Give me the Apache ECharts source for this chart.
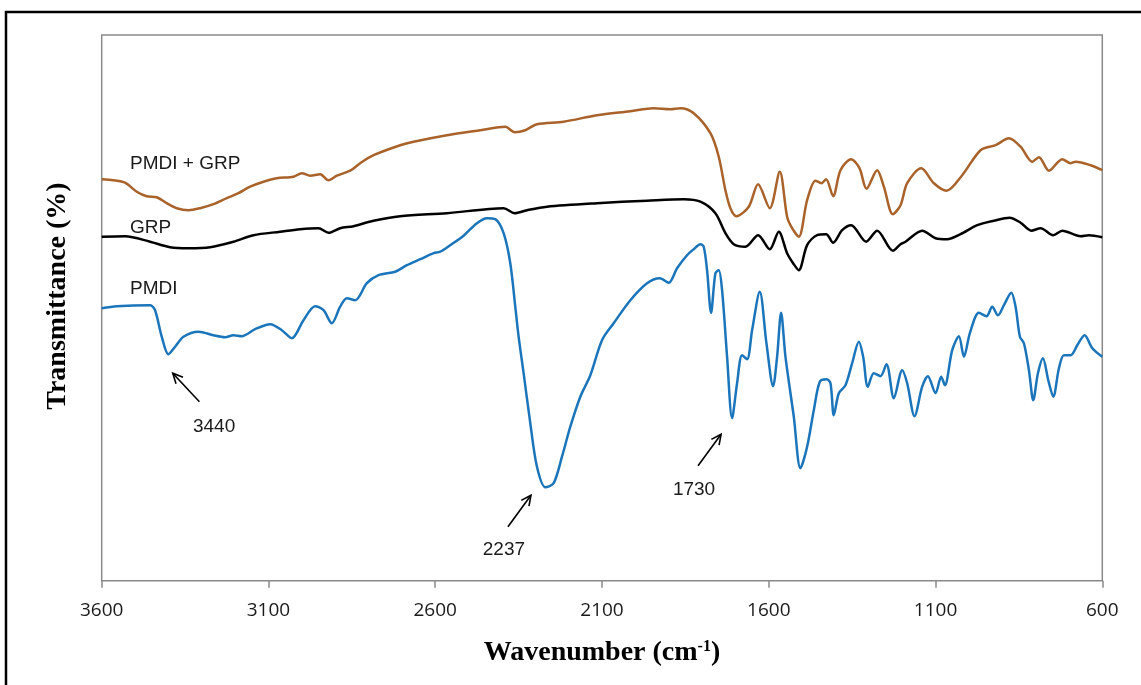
<!DOCTYPE html>
<html>
<head>
<meta charset="utf-8">
<script src="https://cdn.jsdelivr.net/npm/echarts@6/dist/echarts.min.js"></script>
<style>
html,body{margin:0;padding:0;background:#fff;}
#chart{width:1141px;height:685px;}
</style>
</head>
<body>
<div id="chart"></div>
<script>
// Wavenumber tick labels (cm-1)
const xTicks = [3600, 3100, 2600, 2100, 1600, 1100, 600];

// PMDI + GRP spectrum: [wavenumber, transmittance (arb.)]
const pmdiGrp = [
  [3600,80.3],[3565,80.1],[3530,79.6],[3495,77.8],[3465,76.9],[3435,76.7],[3405,75.5],[3375,74.5],
  [3340,74.1],[3305,74.5],[3265,75.3],[3225,76.5],[3190,77.5],[3155,78.8],[3115,79.8],[3075,80.5],
  [3025,80.8],[3000,81.5],[2975,81.0],[2945,81.3],[2920,80.1],[2895,81.0],[2855,82.0],[2825,83.5],
  [2785,85.1],[2705,87.1],[2665,87.8],[2565,89.1],[2465,90.1],[2390,90.8],[2362,89.7],[2330,90.1],
  [2295,91.3],[2215,91.8],[2115,93.1],[2015,93.9],[1945,94.5],[1895,94.3],[1865,94.5],[1825,93.5],
  [1775,89.5],[1750,84.8],[1730,78.1],[1715,74.5],[1697,72.9],[1660,74.8],[1632,79.3],[1597,74.5],
  [1567,81.8],[1545,72.8],[1530,70.5],[1510,68.8],[1485,76.1],[1460,80.0],[1442,79.5],[1428,80.3],
  [1407,76.9],[1385,82.1],[1353,84.3],[1328,82.5],[1307,78.4],[1275,82.1],[1255,78.8],[1228,73.3],
  [1205,75.1],[1185,79.5],[1143,82.5],[1105,79.5],[1067,78.0],[1020,81.1],[965,86.1],[920,87.1],
  [880,88.5],[845,86.8],[810,83.8],[790,84.7],[760,82.0],[720,84.3],[695,83.5],[680,83.8],
  [635,83.1],[600,82.1]
];

// GRP spectrum
const grp = [
  [3600,68.8],[3530,68.9],[3455,67.8],[3395,66.7],[3340,66.5],[3275,66.7],[3205,67.8],[3145,69.1],
  [3065,69.8],[3005,70.3],[2950,70.5],[2920,69.6],[2885,70.5],[2845,70.9],[2785,72.0],[2705,72.9],
  [2565,73.5],[2395,74.5],[2362,73.5],[2325,74.1],[2265,74.8],[2115,75.5],[1965,76.0],[1855,76.3],
  [1805,75.8],[1760,73.5],[1730,69.5],[1705,67.3],[1670,66.8],[1632,69.1],[1597,66.3],[1570,69.8],
  [1545,65.5],[1525,63.3],[1510,62.1],[1485,67.1],[1455,69.1],[1428,69.3],[1407,67.6],[1380,70.1],
  [1353,71.1],[1308,67.8],[1275,70.0],[1228,66.0],[1205,67.3],[1190,67.8],[1140,70.0],[1100,68.5],
  [1065,68.3],[1025,69.3],[975,71.1],[925,72.0],[878,72.6],[845,71.6],[813,70.0],[785,70.5],
  [747,69.1],[720,70.0],[665,68.9],[640,69.1],[600,68.7]
];

// PMDI spectrum
const pmdi = [
  [3600,54.5],[3555,54.9],[3455,55.1],[3440,54.1],[3420,48.8],[3400,45.3],[3380,46.8],[3355,48.8],
  [3310,49.8],[3265,49.1],[3230,48.7],[3205,49.1],[3180,48.9],[3140,50.3],[3095,51.3],[3060,50.1],
  [3030,48.5],[2995,52.1],[2960,54.9],[2935,54.1],[2910,51.5],[2885,54.8],[2865,56.5],[2840,56.1],
  [2805,59.5],[2770,61.1],[2720,61.8],[2685,63.1],[2645,64.3],[2605,65.5],[2585,65.8],[2555,67.1],
  [2515,69.0],[2475,71.5],[2445,72.5],[2420,72.3],[2395,69.5],[2375,63.5],[2360,54.8],[2350,48.8],
  [2335,41.5],[2315,31.5],[2295,22.8],[2270,18.7],[2245,19.5],[2220,24.8],[2195,30.8],[2165,36.8],
  [2135,41.1],[2100,48.1],[2065,51.5],[2015,56.1],[1965,59.5],[1927,60.5],[1900,59.6],[1875,62.5],
  [1845,65.1],[1825,66.3],[1805,67.3],[1795,66.8],[1785,62.1],[1773,53.6],[1760,61.5],[1750,62.1],
  [1740,58.1],[1725,44.8],[1710,32.5],[1695,39.5],[1680,45.1],[1665,44.3],[1650,50.1],[1627,57.8],
  [1607,47.5],[1587,38.9],[1575,44.8],[1563,53.6],[1550,44.8],[1525,32.8],[1505,22.5],[1485,26.8],
  [1465,34.1],[1447,39.8],[1427,40.3],[1415,39.5],[1405,33.1],[1390,37.5],[1370,39.1],[1350,43.5],
  [1330,47.8],[1317,44.8],[1303,38.8],[1285,41.5],[1265,40.9],[1247,43.3],[1225,36.5],[1200,42.1],
  [1185,39.5],[1163,32.9],[1140,38.8],[1123,40.9],[1100,37.5],[1083,40.8],[1072,39.1],[1050,46.1],
  [1030,48.9],[1015,44.8],[997,49.5],[970,53.6],[947,52.9],[930,54.8],[913,53.1],[895,55.1],
  [873,57.6],[860,54.8],[847,48.8],[835,47.5],[820,42.1],[807,36.1],[793,41.5],[778,44.5],
  [762,40.1],[747,36.8],[730,42.5],[715,45.1],[695,45.1],[675,47.1],[653,49.1],[630,46.5],
  [600,44.8]
];

// Series names and where their names sit (data coordinates)
const seriesNames = ['PMDI + GRP', 'GRP', 'PMDI'];
const seriesLabelPos = [[3515, 83.3], [3515, 70.6], [3515, 58.4]];

// Peak annotations: label, arrow tail (x,y), arrow tip (x,y), text (x,y) in data coordinates
const peakLabels = ['3440', '2237', '1730'];
const peakArrows = [
  [3307, 35.8, 3387, 41.5, 3263, 30.8],
  [2382, 10.8, 2313, 17.1, 2394, 6.1],
  [1812, 23.0, 1743, 29.3, 1824, 18.1]
];

const colors = ['#A8622A', '#000000', '#1A75BB'];
const serif = '"Liberation Serif", "DejaVu Serif", serif';
const sans = '"Liberation Sans", Arial, sans-serif';

function nameMark(i) {
  return {
    silent: true,
    symbol: 'circle', symbolSize: 0,
    label: {
      show: true, position: 'right', distance: 0,
      formatter: seriesNames[i], color: '#1a1a1a',
      fontFamily: sans, fontSize: 19
    },
    data: [{ coord: seriesLabelPos[i] }]
  };
}

const chart = echarts.init(document.getElementById('chart'), null, { renderer: 'canvas' });

const option = {
  animation: false,
  backgroundColor: '#fff',
  graphic: [{
    type: 'rect', left: 3.5, top: 9.5, silent: true,
    shape: { width: 1145, height: 685 },
    style: { fill: 'none', stroke: '#000', lineWidth: 2.5 }
  }, {
    type: 'text', x: 58, y: 296, rotation: Math.PI / 2, silent: true,
    style: { text: 'Transmittance (%)', fill: '#000',
      font: 'bold 28px ' + serif, align: 'center', verticalAlign: 'middle' }
  }],
  grid: {
    left: 101.7, top: 35, right: 38.7, bottom: 104.3,
    show: true, borderColor: '#8a8a8a', borderWidth: 1.5, backgroundColor: 'transparent'
  },
  xAxis: {
    type: 'value', min: 600, max: 3600, inverse: true,
    axisLine: { show: false },
    axisTick: { show: true, customValues: xTicks, length: 7, inside: false,
      lineStyle: { color: '#8a8a8a', width: 1.5 } },
    axisLabel: { customValues: xTicks, margin: 20, color: '#1a1a1a',
      formatter: function (v) { return String(v); },
      fontFamily: '"Open Sans", sans-serif', fontSize: 19 },
    splitLine: { show: false },
    name: 'Wavenumber (cm{sup|-1})',
    nameLocation: 'middle', nameGap: 58,
    nameTextStyle: {
      fontFamily: serif, fontWeight: 'bold', fontSize: 28, color: '#000',
      rich: { sup: { fontFamily: serif, fontWeight: 'bold', fontSize: 16, color: '#000',
        verticalAlign: 'top', padding: [0, 0, 13, 0] } }
    }
  },
  yAxis: {
    type: 'value', min: 0, max: 109.14,
    axisLine: { show: false }, axisTick: { show: false },
    axisLabel: { show: false }, splitLine: { show: false }
  },
  series: [
    { name: seriesNames[0], type: 'line', data: pmdiGrp, showSymbol: false, smooth: 0.3,
      lineStyle: { color: colors[0], width: 2.5 }, markPoint: nameMark(0), z: 3 },
    { name: seriesNames[1], type: 'line', data: grp, showSymbol: false, smooth: 0.3,
      lineStyle: { color: colors[1], width: 2.5 }, markPoint: nameMark(1), z: 3 },
    { name: seriesNames[2], type: 'line', data: pmdi, showSymbol: false, smooth: 0.3,
      lineStyle: { color: colors[2], width: 2.5 }, markPoint: nameMark(2), z: 3 },
    {
      type: 'custom', silent: true, z: 4,
      data: peakArrows,
      encode: { x: [0, 2, 4], y: [1, 3, 5] },
      renderItem: function (params, api) {
        const a = api.coord([api.value(0), api.value(1)]);
        const b = api.coord([api.value(2), api.value(3)]);
        const t = api.coord([api.value(4), api.value(5)]);
        const ang = Math.atan2(b[1] - a[1], b[0] - a[0]);
        const hl = 11, ha = 0.45;
        const h1 = [b[0] - hl * Math.cos(ang - ha), b[1] - hl * Math.sin(ang - ha)];
        const h2 = [b[0] - hl * Math.cos(ang + ha), b[1] - hl * Math.sin(ang + ha)];
        const ls = { stroke: '#000', lineWidth: 1.6, fill: 'none' };
        return {
          type: 'group',
          children: [
            { type: 'line', shape: { x1: a[0], y1: a[1], x2: b[0], y2: b[1] }, style: ls },
            { type: 'polyline', shape: { points: [h1, b, h2] }, style: ls },
            { type: 'text', x: t[0], y: t[1],
              style: { text: peakLabels[params.dataIndex], fill: '#1a1a1a',
                font: '19px ' + sans, align: 'center', verticalAlign: 'middle' } }
          ]
        };
      }
    }
  ]
};

chart.setOption(option);
</script>
</body>
</html>
